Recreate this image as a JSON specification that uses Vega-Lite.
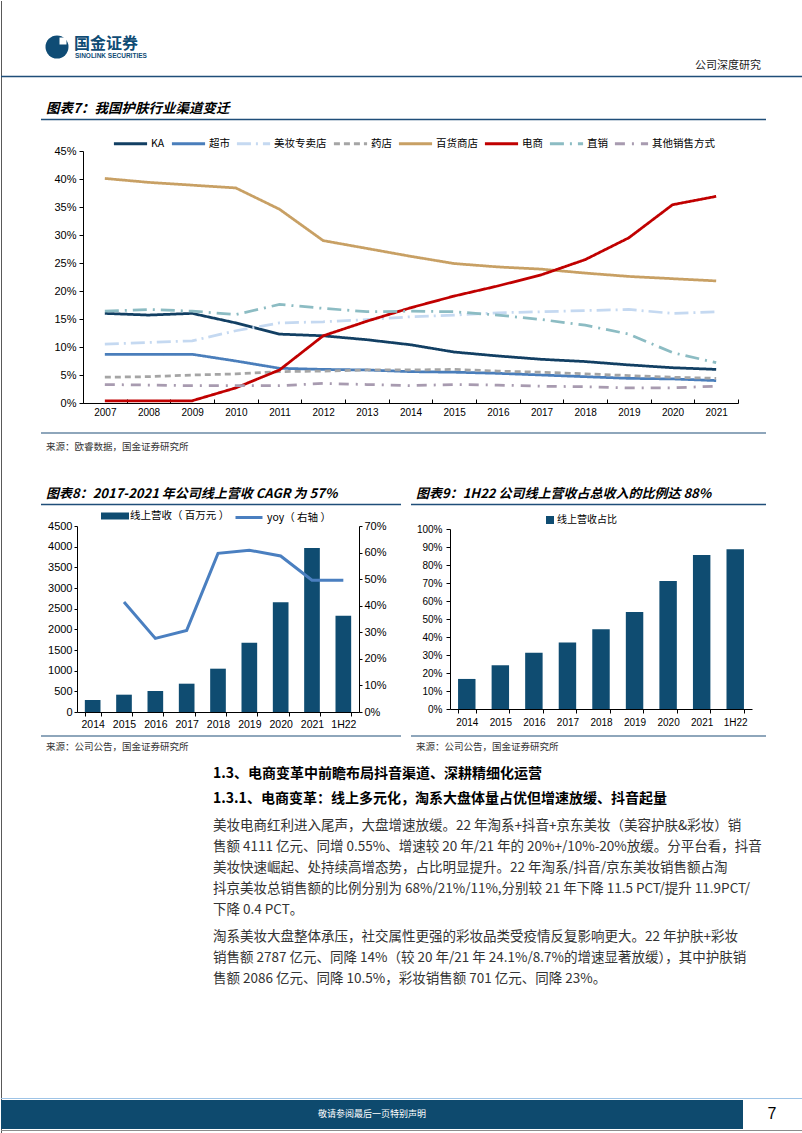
{
  "$schema": "https://vega.github.io/schema/vega-lite/v6.json",
  "padding": 0,
  "background": "white",
  "spacing": 0,
  "bounds": "flush",
  "resolve": {
    "scale": {"color": "independent", "strokeDash": "independent", "fill": "independent", "stroke": "independent"},
    "legend": {"color": "independent", "strokeDash": "independent", "fill": "independent", "stroke": "independent"}
  },
  "config": {
    "view": {"stroke": null},
    "font": "Liberation Sans",
    "axis": {"labelFont": "Liberation Sans", "labelColor": "#000", "domainColor": "#000", "tickColor": "#000", "grid": false, "domainWidth": 1, "tickWidth": 1},
    "legend": {"labelFont": "Noto Sans CJK SC", "labelColor": "#000", "padding": 0},
    "text": {"font": "Noto Sans CJK SC"}
  },
  "vconcat": [
    {
      "width": 802, "height": 150,
      "data": {"values": [{}]},
      "layer": [
        {"mark": {"type": "rule", "stroke": "#595959", "strokeWidth": 1}, "encoding": {"x": {"value": 0.5}, "y": {"value": 0}, "y2": {"value": 150}}},
        {"mark": {"type": "rule", "stroke": "#595959", "strokeWidth": 1}, "encoding": {"x": {"value": 801.5}, "y": {"value": 0}, "y2": {"value": 150}}},
        {"mark": {"type": "point", "shape": "circle", "filled": true, "size": 529, "color": "#0f4c75", "opacity": 1}, "encoding": {"x": {"value": 56}, "y": {"value": 46}}},
        {"mark": {"type": "point", "shape": "square", "filled": true, "size": 49, "color": "white", "opacity": 1}, "encoding": {"x": {"value": 62}, "y": {"value": 40}}},
        {"mark": {"type": "text", "text": "国金证券", "align": "left", "baseline": "middle", "font": "Noto Sans CJK SC", "fontWeight": "bold", "fontSize": 16, "color": "#0f4c75"}, "encoding": {"x": {"value": 73}, "y": {"value": 43}}},
        {"mark": {"type": "text", "text": "SINOLINK SECURITIES", "align": "left", "baseline": "middle", "font": "Liberation Sans", "fontWeight": "bold", "fontSize": 6.5, "color": "#0f4c75"}, "encoding": {"x": {"value": 74}, "y": {"value": 55}}},
        {"mark": {"type": "text", "text": "公司深度研究", "align": "right", "baseline": "middle", "fontSize": 11, "color": "#222"}, "encoding": {"x": {"value": 760}, "y": {"value": 65}}},
        {"mark": {"type": "rule", "stroke": "#1f4e79", "strokeWidth": 1.5}, "encoding": {"x": {"value": 0}, "x2": {"value": 802}, "y": {"value": 75.5}}},
        {"mark": {"type": "text", "text": "图表7：我国护肤行业渠道变迁", "align": "left", "baseline": "middle", "fontSize": 13.5, "fontWeight": "bold", "fontStyle": "italic", "color": "#000"}, "encoding": {"x": {"value": 45}, "y": {"value": 108}}},
        {"mark": {"type": "rule", "stroke": "#1f4e79", "strokeWidth": 1.5}, "encoding": {"x": {"value": 40}, "x2": {"value": 765}, "y": {"value": 118.5}}}
      ]
    },
    {
      "width": 802, "height": 252,
      "layer": [
        {"data": {"values": [{}]}, "mark": {"type": "rule", "stroke": "#595959", "strokeWidth": 1}, "encoding": {"x": {"value": 0.5}, "y": {"value": 0}, "y2": {"value": 252}}},
        {"data": {"values": [{}]}, "mark": {"type": "rule", "stroke": "#595959", "strokeWidth": 1}, "encoding": {"x": {"value": 801.5}, "y": {"value": 0}, "y2": {"value": 252}}},
        {
          "data": {"values": [
            {"year": "2007", "KA": 16.0, "超市": 8.7, "美妆专卖店": 10.5, "药店": 4.6, "百货商店": 40.1, "电商": 0.4, "直销": 16.4, "其他销售方式": 3.3},
            {"year": "2008", "KA": 15.7, "超市": 8.7, "美妆专卖店": 10.8, "药店": 4.7, "百货商店": 39.4, "电商": 0.4, "直销": 16.7, "其他销售方式": 3.2},
            {"year": "2009", "KA": 16.0, "超市": 8.7, "美妆专卖店": 11.1, "药店": 5.0, "百货商店": 38.9, "电商": 0.4, "直销": 16.4, "其他销售方式": 3.1},
            {"year": "2010", "KA": 14.3, "超市": 7.5, "美妆专卖店": 12.9, "药店": 5.2, "百货商店": 38.4, "电商": 2.7, "直销": 15.8, "其他销售方式": 3.1},
            {"year": "2011", "KA": 12.3, "超市": 6.2, "美妆专卖店": 14.3, "药店": 5.6, "百货商店": 34.6, "电商": 5.9, "直销": 17.6, "其他销售方式": 3.1},
            {"year": "2012", "KA": 12.0, "超市": 6.0, "美妆专卖店": 14.5, "药店": 5.7, "百货商店": 29.0, "电商": 12.0, "直销": 16.9, "其他销售方式": 3.5},
            {"year": "2013", "KA": 11.3, "超市": 5.9, "美妆专卖店": 14.9, "药店": 5.9, "百货商店": 27.6, "电商": 14.6, "直销": 16.3, "其他销售方式": 3.3},
            {"year": "2014", "KA": 10.4, "超市": 5.6, "美妆专卖店": 15.4, "药店": 5.9, "百货商店": 26.2, "电商": 17.0, "直销": 16.4, "其他销售方式": 3.1},
            {"year": "2015", "KA": 9.1, "超市": 5.5, "美妆专卖店": 15.7, "药店": 6.0, "百货商店": 24.9, "电商": 19.1, "直销": 16.3, "其他销售方式": 3.3},
            {"year": "2016", "KA": 8.4, "超市": 5.3, "美妆专卖店": 16.1, "药店": 5.7, "百货商店": 24.3, "电商": 20.9, "直销": 15.7, "其他销售方式": 3.2},
            {"year": "2017", "KA": 7.8, "超市": 5.0, "美妆专卖店": 16.3, "药店": 5.5, "百货商店": 23.9, "电商": 22.9, "直销": 14.9, "其他销售方式": 3.0},
            {"year": "2018", "KA": 7.4, "超市": 4.7, "美妆专卖店": 16.5, "药店": 5.2, "百货商店": 23.2, "电商": 25.6, "直销": 13.9, "其他销售方式": 2.9},
            {"year": "2019", "KA": 6.8, "超市": 4.4, "美妆专卖店": 16.7, "药店": 4.9, "百货商店": 22.6, "电商": 29.5, "直销": 12.3, "其他销售方式": 2.7},
            {"year": "2020", "KA": 6.3, "超市": 4.3, "美妆专卖店": 16.0, "药店": 4.6, "百货商店": 22.2, "电商": 35.4, "直销": 9.0, "其他销售方式": 2.7},
            {"year": "2021", "KA": 6.0, "超市": 4.0, "美妆专卖店": 16.3, "药店": 4.4, "百货商店": 21.8, "电商": 36.9, "直销": 7.2, "其他销售方式": 3.0}
          ]},
          "transform": [{"fold": ["KA", "超市", "美妆专卖店", "药店", "百货商店", "电商", "直销", "其他销售方式"], "as": ["channel", "value"]}],
          "mark": {"type": "line", "strokeWidth": 2.75},
          "encoding": {
            "x": {"field": "year", "type": "ordinal", "scale": {"type": "band", "paddingInner": 0, "paddingOuter": 0, "range": [82, 737]},
                  "axis": {"title": null, "labelAngle": 0, "tickBand": "extent", "tickSize": -4, "labelPadding": 8, "labelFontSize": 10}},
            "y": {"field": "value", "type": "quantitative", "scale": {"domain": [0, 45], "nice": false},
                  "axis": {"title": null, "offset": -82, "values": [0, 5, 10, 15, 20, 25, 30, 35, 40, 45], "labelExpr": "datum.value + '%'", "tickSize": 4, "labelPadding": 3, "labelFontSize": 11}},
            "color": {"field": "channel", "type": "nominal",
                      "scale": {"domain": ["KA", "超市", "美妆专卖店", "药店", "百货商店", "电商", "直销", "其他销售方式"],
                                "range": ["#123f63", "#4a7ebb", "#c5d9f1", "#a5a5a5", "#c8a064", "#c00000", "#8cbcc3", "#a89bb0"]},
                      "legend": {"title": null, "orient": "none", "legendX": 111, "legendY": -26, "direction": "horizontal", "symbolType": "stroke", "symbolSize": 1100, "symbolStrokeWidth": 3, "labelFontSize": 10.5, "labelOffset": 2, "columnPadding": 0, "labelLimit": 200}},
            "strokeDash": {"field": "channel", "type": "nominal",
                      "scale": {"domain": ["KA", "超市", "美妆专卖店", "药店", "百货商店", "电商", "直销", "其他销售方式"],
                                "range": [[1, 0], [1, 0], [14, 5, 2, 5], [6, 4], [1, 0], [1, 0], [14, 6, 2, 6], [10, 7, 2, 7]]},
                      "legend": {"title": null, "orient": "none", "legendX": 111, "legendY": -26, "direction": "horizontal", "symbolType": "stroke", "symbolSize": 1100, "symbolStrokeWidth": 3, "labelFontSize": 10.5, "labelOffset": 2, "columnPadding": 0, "labelLimit": 200}}
          }
        }
      ]
    },
    {
      "width": 802, "height": 123,
      "data": {"values": [{}]},
      "layer": [
        {"mark": {"type": "rule", "stroke": "#595959", "strokeWidth": 1}, "encoding": {"x": {"value": 0.5}, "y": {"value": 0}, "y2": {"value": 123}}},
        {"mark": {"type": "rule", "stroke": "#595959", "strokeWidth": 1}, "encoding": {"x": {"value": 801.5}, "y": {"value": 0}, "y2": {"value": 123}}},
        {"mark": {"type": "rule", "stroke": "#1f4e79", "strokeWidth": 1.2}, "encoding": {"x": {"value": 40}, "x2": {"value": 765}, "y": {"value": 30}}},
        {"mark": {"type": "text", "text": "来源：欧睿数据，国金证券研究所", "align": "left", "baseline": "middle", "fontSize": 9.5, "color": "#333"}, "encoding": {"x": {"value": 45}, "y": {"value": 43.5}}},
        {"mark": {"type": "text", "text": "图表8：2017-2021 年公司线上营收 CAGR 为 57%", "align": "left", "baseline": "middle", "fontSize": 13, "fontWeight": "bold", "fontStyle": "italic", "color": "#000"}, "encoding": {"x": {"value": 45}, "y": {"value": 91}}},
        {"mark": {"type": "text", "text": "图表9：1H22 公司线上营收占总收入的比例达 88%", "align": "left", "baseline": "middle", "fontSize": 13, "fontWeight": "bold", "fontStyle": "italic", "color": "#000"}, "encoding": {"x": {"value": 415}, "y": {"value": 91}}},
        {"mark": {"type": "rule", "stroke": "#1f4e79", "strokeWidth": 1.5}, "encoding": {"x": {"value": 40}, "x2": {"value": 400}, "y": {"value": 101.5}}},
        {"mark": {"type": "rule", "stroke": "#1f4e79", "strokeWidth": 1.5}, "encoding": {"x": {"value": 410}, "x2": {"value": 765}, "y": {"value": 101.5}}}
      ]
    },
    {
      "width": 802, "height": 186,
      "layer": [
        {"data": {"values": [{}]}, "mark": {"type": "rule", "stroke": "#595959", "strokeWidth": 1}, "encoding": {"x": {"value": 0.5}, "y": {"value": 0}, "y2": {"value": 186}}},
        {"data": {"values": [{}]}, "mark": {"type": "rule", "stroke": "#595959", "strokeWidth": 1}, "encoding": {"x": {"value": 801.5}, "y": {"value": 0}, "y2": {"value": 186}}},
        {
          "data": {"values": [
            {"period": "2014", "revenue": 290},
            {"period": "2015", "revenue": 419, "yoy": 0.414},
            {"period": "2016", "revenue": 508, "yoy": 0.277},
            {"period": "2017", "revenue": 685, "yoy": 0.307},
            {"period": "2018", "revenue": 1048, "yoy": 0.597},
            {"period": "2019", "revenue": 1677, "yoy": 0.609},
            {"period": "2020", "revenue": 2653, "yoy": 0.587},
            {"period": "2021", "revenue": 3968, "yoy": 0.496},
            {"period": "1H22", "revenue": 2331, "yoy": 0.496}
          ]},
          "layer": [
            {
              "mark": {"type": "bar"},
              "encoding": {
                "x": {"field": "period", "type": "ordinal", "scale": {"type": "band", "domain": ["2014", "2015", "2016", "2017", "2018", "2019", "2020", "2021", "1H22"], "paddingInner": 0.5, "paddingOuter": 0.25, "range": [76, 358]},
                      "axis": {"title": null, "orient": "bottom", "labelAngle": 0, "tickBand": "extent", "tickSize": 4, "labelPadding": 3, "labelFontSize": 10.5}},
                "y": {"field": "revenue", "type": "quantitative", "scale": {"domain": [0, 4500], "nice": false},
                      "axis": {"title": null, "orient": "left", "offset": -76, "format": "d", "values": [0, 500, 1000, 1500, 2000, 2500, 3000, 3500, 4000, 4500], "tickSize": 3, "labelPadding": 2, "labelFontSize": 11}},
                "fill": {"datum": "线上营收（ 百万元 ）", "type": "nominal", "scale": {"range": ["#0f4c71"]},
                         "legend": {"title": null, "orient": "none", "legendX": 100, "legendY": -24, "symbolType": "M-1,-0.25H1V0.25H-1Z", "symbolSize": 784, "symbolStrokeWidth": 0, "labelFontSize": 10.5, "labelOffset": 1}}
              }
            },
            {
              "transform": [{"filter": "isValid(datum.yoy)"}],
              "mark": {"type": "line", "strokeWidth": 3},
              "encoding": {
                "x": {"field": "period", "type": "ordinal"},
                "y": {"field": "yoy", "type": "quantitative", "scale": {"domain": [0, 0.7], "nice": false},
                      "axis": {"title": null, "orient": "right", "offset": -444, "format": ".0%", "values": [0, 0.1, 0.2, 0.3, 0.4, 0.5, 0.6, 0.7], "tickSize": 3, "labelPadding": 2, "labelFontSize": 11}},
                "stroke": {"datum": "yoy（ 右轴 ）", "type": "nominal", "scale": {"range": ["#4a7fc0"]},
                           "legend": {"title": null, "orient": "none", "legendX": 233, "legendY": -23.5, "symbolType": "stroke", "symbolSize": 729, "symbolStrokeWidth": 3, "labelFontSize": 10.5, "labelOffset": 3}}
              }
            }
          ],
          "resolve": {"scale": {"y": "independent"}, "axis": {"y": "independent"}}
        },
        {
          "data": {"values": [
            {"yr": "2014", "share": 0.167},
            {"yr": "2015", "share": 0.243},
            {"yr": "2016", "share": 0.313},
            {"yr": "2017", "share": 0.370},
            {"yr": "2018", "share": 0.443},
            {"yr": "2019", "share": 0.539},
            {"yr": "2020", "share": 0.711},
            {"yr": "2021", "share": 0.856},
            {"yr": "1H22", "share": 0.887}
          ]},
          "mark": {"type": "bar"},
          "encoding": {
            "x": {"field": "yr", "type": "ordinal", "scale": {"type": "band", "domain": ["2014", "2015", "2016", "2017", "2018", "2019", "2020", "2021", "1H22"], "paddingInner": 0.48, "paddingOuter": 0.24, "range": [449, 751]},
                  "axis": {"title": null, "orient": "bottom", "offset": -3, "labelAngle": 0, "tickBand": "extent", "tickSize": 4, "labelPadding": 4, "labelFontSize": 10}},
            "y": {"field": "share", "type": "quantitative", "scale": {"domain": [0, 1], "nice": false, "range": [183, 3]},
                  "axis": {"title": null, "orient": "left", "offset": -449, "format": ".0%", "values": [0, 0.1, 0.2, 0.3, 0.4, 0.5, 0.6, 0.7, 0.8, 0.9, 1], "tickSize": 4, "labelPadding": 4, "labelFontSize": 10}},
            "fill": {"datum": "线上营收占比", "type": "nominal", "scale": {"range": ["#0f4c71"]},
                     "legend": {"title": null, "orient": "none", "legendX": 544, "legendY": -11, "symbolType": "square", "symbolSize": 64, "symbolStrokeWidth": 0, "labelFontSize": 10, "labelOffset": 2}}
          }
        }
      ],
      "resolve": {
        "scale": {"x": "independent", "y": "independent", "fill": "independent", "stroke": "independent"},
        "axis": {"x": "independent", "y": "independent"},
        "legend": {"fill": "independent", "stroke": "independent"}
      }
    },
    {
      "width": 802, "height": 422,
      "data": {"values": [{}]},
      "layer": [
        {"mark": {"type": "rule", "stroke": "#595959", "strokeWidth": 1}, "encoding": {"x": {"value": 0.5}, "y": {"value": 0}, "y2": {"value": 422}}},
        {"mark": {"type": "rule", "stroke": "#595959", "strokeWidth": 1}, "encoding": {"x": {"value": 801.5}, "y": {"value": 0}, "y2": {"value": 422}}},
        {"mark": {"type": "rule", "stroke": "#1f4e79", "strokeWidth": 1.2}, "encoding": {"x": {"value": 40}, "x2": {"value": 400}, "y": {"value": 24}}},
        {"mark": {"type": "rule", "stroke": "#1f4e79", "strokeWidth": 1.2}, "encoding": {"x": {"value": 410}, "x2": {"value": 765}, "y": {"value": 24}}},
        {"mark": {"type": "text", "text": "来源：公司公告，国金证券研究所", "align": "left", "baseline": "middle", "fontSize": 9.5, "color": "#333"}, "encoding": {"x": {"value": 45}, "y": {"value": 34.5}}},
        {"mark": {"type": "text", "text": "来源：公司公告，国金证券研究所", "align": "left", "baseline": "middle", "fontSize": 9.5, "color": "#333"}, "encoding": {"x": {"value": 415}, "y": {"value": 34.5}}},
        {"mark": {"type": "text", "text": "1.3、电商变革中前瞻布局抖音渠道、深耕精细化运营", "align": "left", "baseline": "middle", "fontSize": 14, "fontWeight": "bold", "color": "#000"}, "encoding": {"x": {"value": 212}, "y": {"value": 62}}},
        {"mark": {"type": "text", "text": "1.3.1、电商变革：线上多元化，淘系大盘体量占优但增速放缓、抖音起量", "align": "left", "baseline": "middle", "fontSize": 14, "fontWeight": "bold", "color": "#000"}, "encoding": {"x": {"value": 212}, "y": {"value": 87}}},
        {"mark": {"type": "text", "lineBreak": "\n", "lineHeight": 21, "align": "left", "baseline": "alphabetic", "fontSize": 13.5, "color": "#333",
                  "text": "美妆电商红利进入尾声，大盘增速放缓。22 年淘系+抖音+京东美妆（美容护肤&彩妆）销\n售额 4111 亿元、同增 0.55%、增速较 20 年/21 年的 20%+/10%-20%放缓。分平台看，抖音\n美妆快速崛起、处持续高增态势，占比明显提升。22 年淘系/抖音/京东美妆销售额占淘\n抖京美妆总销售额的比例分别为 68%/21%/11%,分别较 21 年下降 11.5 PCT/提升 11.9PCT/\n下降 0.4 PCT。"},
         "encoding": {"x": {"value": 212}, "y": {"value": 118}}},
        {"mark": {"type": "text", "lineBreak": "\n", "lineHeight": 21, "align": "left", "baseline": "alphabetic", "fontSize": 13.5, "color": "#333",
                  "text": "淘系美妆大盘整体承压，社交属性更强的彩妆品类受疫情反复影响更大。22 年护肤+彩妆\n销售额 2787 亿元、同降 14%（较 20 年/21 年 24.1%/8.7%的增速显著放缓），其中护肤销\n售额 2086 亿元、同降 10.5%，彩妆销售额 701 亿元、同降 23%。"},
         "encoding": {"x": {"value": 212}, "y": {"value": 229}}},
        {"mark": {"type": "rule", "stroke": "#9dc3e6", "strokeWidth": 1}, "encoding": {"x": {"value": 0}, "x2": {"value": 802}, "y": {"value": 386.5}}},
        {"mark": {"type": "rect", "color": "#0e4a6e"}, "encoding": {"x": {"value": 0}, "x2": {"value": 742}, "y": {"value": 388}, "y2": {"value": 417}}},
        {"mark": {"type": "rule", "stroke": "#8c8c8c", "strokeWidth": 1}, "encoding": {"x": {"value": 0}, "x2": {"value": 802}, "y": {"value": 418.5}}},
        {"mark": {"type": "text", "text": "敬请参阅最后一页特别声明", "align": "center", "baseline": "middle", "fontSize": 9, "color": "#ffffff"}, "encoding": {"x": {"value": 371}, "y": {"value": 402}}},
        {"mark": {"type": "text", "text": "7", "align": "center", "baseline": "middle", "font": "Liberation Sans", "fontSize": 16, "color": "#000"}, "encoding": {"x": {"value": 771}, "y": {"value": 402}}}
      ]
    }
  ]
}
